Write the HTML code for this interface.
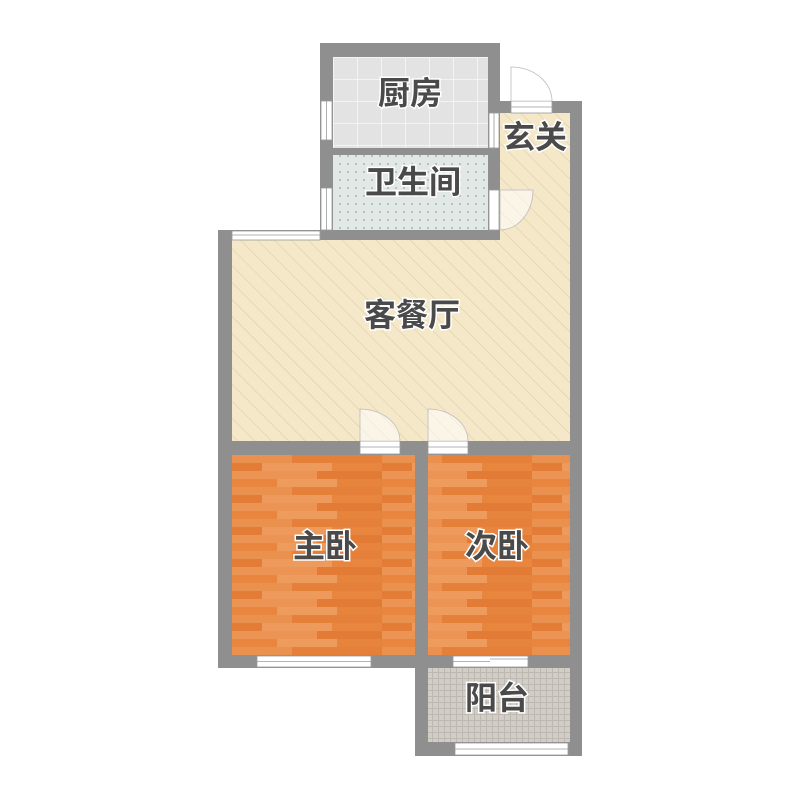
<!DOCTYPE html>
<html><head><meta charset="utf-8"><style>
html,body{margin:0;padding:0;background:#fff;}
svg{display:block;}
text{font-family:"Liberation Sans","Noto Sans CJK SC",sans-serif;font-weight:bold;fill:#4a4a4a;stroke:#fff;stroke-width:3;paint-order:stroke;text-anchor:middle;}
</style></head><body>
<svg width="800" height="800" viewBox="0 0 800 800" xmlns="http://www.w3.org/2000/svg">
<defs>
<pattern id="tile" width="24" height="22" patternUnits="userSpaceOnUse" x="333" y="57">
<rect width="24" height="22" fill="#e3e3e3"/>
<path d="M0 0.5H24M0.5 0V22" stroke="#f4f4f4" stroke-width="1"/>
</pattern>
<pattern id="dots" width="8" height="8" patternUnits="userSpaceOnUse">
<rect width="8" height="8" fill="#e2e8e6"/>
<rect x="3" y="3" width="2" height="2" fill="#b7c2c0"/>
</pattern>
<pattern id="hatch" width="12" height="12" patternUnits="userSpaceOnUse" patternTransform="rotate(-45)">
<rect width="12" height="12" fill="#f5e8c9"/>
<line x1="0" y1="0" x2="0" y2="12" stroke="#d9c8a4" stroke-width="1"/>
</pattern>
<pattern id="wood" width="150" height="32" patternUnits="userSpaceOnUse" x="232" y="455">
<rect width="150" height="32" fill="#e8873f"/>
<rect x="0" y="0" width="60" height="8" fill="#eb9150"/>
<rect x="60" y="0" width="90" height="8" fill="#e5803b"/>
<rect x="0" y="8" width="30" height="8" fill="#e37c37"/>
<rect x="30" y="8" width="70" height="8" fill="#ed9a5c"/>
<rect x="100" y="8" width="50" height="8" fill="#e8863f"/>
<rect x="0" y="16" width="85" height="8" fill="#eb9453"/>
<rect x="85" y="16" width="65" height="8" fill="#e27b36"/>
<rect x="0" y="24" width="45" height="8" fill="#e8853e"/>
<rect x="45" y="24" width="60" height="8" fill="#ee9c5e"/>
<rect x="105" y="24" width="45" height="8" fill="#e6843e"/>
</pattern>
<pattern id="bal" width="6" height="6" patternUnits="userSpaceOnUse">
<rect width="6" height="6" fill="#d2cdc6"/>
<path d="M0 0.5H6M0.5 0V6" stroke="#bdb8b0" stroke-width="1"/>
</pattern>
</defs>

<g fill="#8f8f8f">
<rect x="320" y="43" width="180" height="197"/>
<rect x="488" y="101" width="94" height="354"/>
<rect x="218" y="230" width="364" height="438"/>
<rect x="415" y="655" width="167" height="101"/>
</g>

<rect x="333" y="57" width="155" height="91" fill="url(#tile)"/>
<rect x="333" y="155" width="155" height="75" fill="url(#dots)"/>
<rect x="232" y="240" width="338" height="201" fill="url(#hatch)"/>
<rect x="500" y="113" width="70" height="128" fill="url(#hatch)"/>
<rect x="232" y="455" width="183" height="200" fill="url(#wood)"/>
<rect x="428" y="455" width="142" height="200" fill="url(#wood)"/>
<rect x="428" y="668" width="142" height="74" fill="url(#bal)"/>

<g fill="#fff" stroke="#9a9a9a" stroke-width="0.8">
<rect x="232" y="231" width="88" height="9"/>
<line x1="232" y1="235" x2="320" y2="235"/>
<rect x="321" y="101" width="11" height="39"/>
<line x1="326.5" y1="101" x2="326.5" y2="140"/>
<rect x="321" y="188" width="11" height="42"/>
<line x1="326.5" y1="188" x2="326.5" y2="230"/>
<rect x="489" y="113" width="10" height="35"/>
<line x1="494" y1="113" x2="494" y2="148"/>
<rect x="489" y="190" width="10" height="40"/>
<rect x="257" y="656" width="114" height="11"/>
<line x1="257" y1="661.5" x2="371" y2="661.5"/>
<rect x="453" y="656" width="75" height="11"/>
<line x1="453" y1="661.5" x2="490" y2="661.5"/>
<line x1="490" y1="659" x2="528" y2="659"/>
<rect x="455" y="743" width="113" height="12"/>
<line x1="455" y1="749" x2="568" y2="749"/>
<rect x="511" y="101" width="41" height="12"/>
<line x1="511" y1="107" x2="552" y2="107"/>
<rect x="360" y="441" width="40" height="13"/>
<line x1="360" y1="447" x2="400" y2="447"/>
<rect x="428" y="441" width="40" height="13"/>
<line x1="428" y1="447" x2="468" y2="447"/>
</g>

<g fill="rgba(255,255,255,0.55)" stroke="#bbb" stroke-width="0.8">
<path d="M511 101 V67 A41 34 0 0 1 552 101"/>
<path d="M360 441 V409 A40 32 0 0 1 400 441"/>
<path d="M428 441 V409 A40 32 0 0 1 468 441"/>
<path d="M500 190 H533 A33 40 0 0 1 500 230 Z"/>
</g>

<text x="410" y="104" font-size="32">厨房</text>
<text x="413" y="193" font-size="32">卫生间</text>
<text x="535" y="148" font-size="32">玄关</text>
<text x="412" y="326" font-size="32">客餐厅</text>
<text x="325" y="557" font-size="32">主卧</text>
<text x="497" y="557" font-size="32">次卧</text>
<text x="497" y="709" font-size="32">阳台</text>
</svg>
</body></html>
